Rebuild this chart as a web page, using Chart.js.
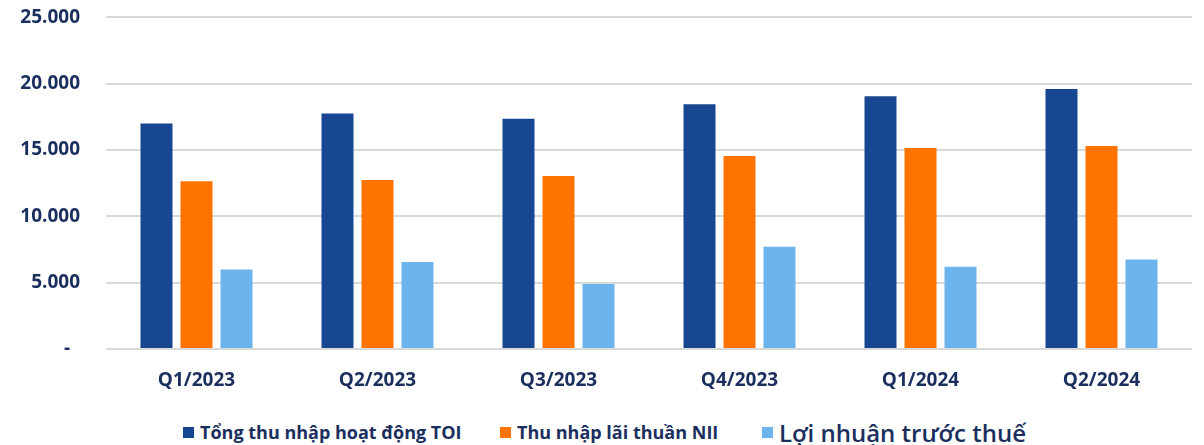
<!DOCTYPE html>
<html>
<head>
<meta charset="utf-8">
<script src="https://cdn.jsdelivr.net/npm/chart.js@4/dist/chart.umd.min.js"></script>
<style>
    html, body { margin: 0; padding: 0; background: #fff; overflow: hidden; }
    #wrap { position: relative; width: 1204px; height: 445px; overflow: hidden; }
    #chartBox { position: absolute; left: 0; top: -20px; width: 1204px; height: 420px; }
    #legend { position: absolute; left: 0; top: 418px; width: 1204px; height: 28px; }
    .lg-item { position: absolute; top: 0; height: 28px; display: flex; align-items: center;
        font-family: 'Open Sans', sans-serif; font-weight: 700; color: #1B2F5E; white-space: nowrap; }
    .lg-box { width: 11px; height: 11px; margin-right: 6px; }
</style>
</head>
<body>
<div id="wrap">
    <div id="chartBox"><canvas id="bankChart"></canvas></div>
    <div id="legend"></div>
</div>
<script>
// Quarters on the x axis
const quarters = ['Q1/2023', 'Q2/2023', 'Q3/2023', 'Q4/2023', 'Q1/2024', 'Q2/2024'];

// Series (bn VND)
const toiValues = [17000, 17750, 17350, 18450, 19050, 19600];
const niiValues = [12650, 12750, 13050, 14550, 15150, 15300];
const pbtValues = [6000, 6550, 4900, 7700, 6200, 6750];

const seriesNames = ['Tổng thu nhập hoạt động TOI', 'Thu nhập lãi thuần NII', 'Lợi nhuận trước thuế'];
const seriesColors = ['#184792', '#FF7400', '#6DB3EE'];

// y axis ticks
const yTicks = [0, 5000, 10000, 15000, 20000, 25000];

const textColor = '#1B2F5E';

function fmtTick(v) {
    if (v === 0) return '-  ';
    return v.toString().replace(/\B(?=(\d{3})+(?!\d))/g, '.');
}

function buildLegend() {
    const legend = document.getElementById('legend');
    const lefts = [183, 500, 762];
    const sizes = [18, 18, 24];
    seriesNames.forEach((name, i) => {
        const item = document.createElement('div');
        item.className = 'lg-item';
        item.style.left = lefts[i] + 'px';
        item.style.fontSize = sizes[i] + 'px';
        item.style.fontWeight = i === 2 ? '600' : '700';
        const box = document.createElement('span');
        box.className = 'lg-box';
        box.style.background = seriesColors[i];
        item.appendChild(box);
        item.appendChild(document.createTextNode(name));
        legend.appendChild(item);
    });
}

function initializeChart() {
    const ctx = document.getElementById('bankChart');
    const values = [toiValues, niiValues, pbtValues];

    new Chart(ctx, {
        type: 'bar',
        data: {
            labels: quarters,
            datasets: values.map((data, i) => ({
                label: seriesNames[i],
                data: data,
                backgroundColor: seriesColors[i],
                borderWidth: 0,
                categoryPercentage: 0.663,
                barPercentage: 0.8
            }))
        },
        options: {
            responsive: true,
            maintainAspectRatio: false,
            animation: false,
            layout: { padding: { top: 6, right: 12, bottom: 11, left: 0 } },
            plugins: {
                legend: { display: false },
                tooltip: { enabled: false }
            },
            scales: {
                x: {
                    grid: { display: false },
                    border: { display: false },
                    ticks: {
                        color: textColor,
                        padding: 12,
                        font: { family: 'Open Sans', size: 19, weight: '700' }
                    },
                    afterFit: function(scale) { scale.height = 40; }
                },
                y: {
                    min: 0,
                    max: 25000,
                    afterBuildTicks: function(scale) {
                        scale.ticks = yTicks.map(v => ({ value: v }));
                    },
                    grid: {
                        color: '#D9D9D9',
                        lineWidth: 2,
                        drawTicks: false
                    },
                    border: { display: false },
                    ticks: {
                        color: textColor,
                        padding: 26,
                        font: { family: 'Open Sans', size: 19, weight: '700' },
                        callback: function(value) { return fmtTick(value); }
                    },
                    afterFit: function(scale) { scale.width = 106; }
                }
            }
        }
    });
}

document.addEventListener('DOMContentLoaded', function() {
    buildLegend();
    initializeChart();
});
</script>
</body>
</html>
